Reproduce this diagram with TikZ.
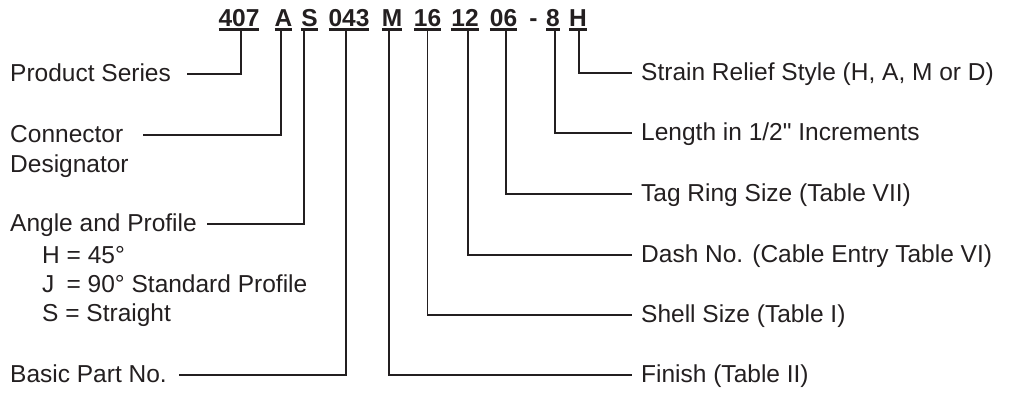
\documentclass[tikz,border=0pt]{standalone}
\usepackage{fontspec}
\setmainfont{Liberation Sans}[Ligatures=TeXOff]
\usetikzlibrary{positioning}
\definecolor{ink}{HTML}{231F20}
\newcommand{\codeul}[1]{\setbox0\hbox{#1}\rlap{\rule[-4.6pt]{\wd0}{2.4pt}}\box0}
\tikzset{
    partcode/.style={font=\fontsize{24.5}{29}\selectfont\bfseries, inner sep=0pt, anchor=base, text=ink},
    desc/.style={font=\fontsize{24.5}{29}\selectfont, inner sep=0pt, text height=15pt, text depth=0pt, text=ink},
    desc left/.style={desc, anchor=west},
    desc right/.style={desc, anchor=west, inner xsep=9pt},
    optlist/.style={font=\fontsize{24.5}{29}\selectfont, inner sep=0pt, align=left, text=ink},
    leader/.style={draw=ink, line width=1.9pt},
}
\begin{document}
\begin{tikzpicture}[x=1pt, y=-1pt]
  \useasboundingbox (0,0) rectangle (1014,392);
  % part number
  \node[partcode] (c407) at (239,26) {\codeul{407}};
  \node[partcode] (cA) at (283.5,26) {\codeul{A}};
  \node[partcode] (cS) at (309.5,26) {\codeul{S}};
  \node[partcode] (c043) at (349,26) {\codeul{043}};
  \node[partcode] (cM) at (392,26) {\codeul{M}};
  \node[partcode] (c16) at (427.5,26) {\codeul{16}};
  \node[partcode] (c12) at (465,26) {\codeul{12}};
  \node[partcode] (c06) at (503.5,26) {\codeul{06}};
  \node[partcode] (cdash) at (533.5,26) {-};
  \node[partcode] (c8) at (553,26) {\codeul{8}};
  \node[partcode] (cH) at (578,26) {\codeul{H}};
  % left side
  \node[desc left] (ps) at (10,74) {Product Series};
  \node[desc left] (cd) at (10,135) {Connector};
  \node[desc, below right=15pt and 0pt of cd.south west] (cdb) {Designator};
  \node[desc left] (ap) at (10,224) {Angle and Profile};
  \node[optlist, below right=14pt and 32pt of ap.south west] (apopt) {H = 45°\\J\hspace{.22em} = 90° Standard Profile\\S = Straight};
  \node[desc left] (bpn) at (10,375) {Basic Part No.};
  % right side
  \node[desc right] (srs) at (632,73) {Strain Relief Style (H, A, M or D)};
  \node[desc right] (len) at (632,133) {Length in 1/2" Increments};
  \node[desc right] (tag) at (632,194) {Tag Ring Size (Table VII)};
  \node[desc right] (dash) at (632,255) {Dash No. (Cable Entry Table VI)};
  \node[desc right] (shell) at (632,315) {Shell Size (Table I)};
  \node[desc right] (fin) at (632,375) {Finish (Table II)};
  % leaders
  \draw[leader] ([xshift=1.7pt]c407.south) |- ([xshift=16pt]ps.east);
  \draw[leader] ([xshift=-2.5pt]cA.south) |- ([xshift=20pt]cd.east);
  \draw[leader] ([xshift=-5.5pt]cS.south) |- ([xshift=10pt]ap.east);
  \draw[leader] ([xshift=-3pt]c043.south) |- ([xshift=12pt]bpn.east);
  \draw[leader] ([xshift=-3pt]cM.south) |- (fin.west);
  \draw[leader] (c16.south) |- (shell.west);
  \draw[leader] ([xshift=3pt]c12.south) |- (dash.west);
  \draw[leader] ([xshift=2.5pt]c06.south) |- (tag.west);
  \draw[leader] ([xshift=2pt]c8.south) |- (len.west);
  \draw[leader] ([xshift=1pt]cH.south) |- (srs.west);
\end{tikzpicture}
\end{document}
